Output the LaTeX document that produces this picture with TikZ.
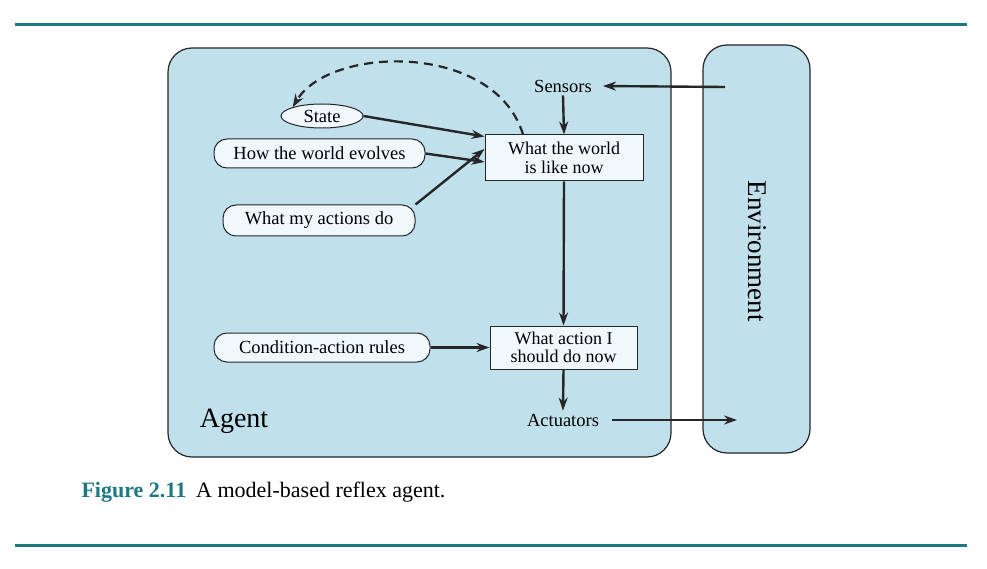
\documentclass[tikz,border=0pt]{standalone}
\usepackage{fontspec}
\setmainfont{Liberation Serif}
\usetikzlibrary{arrows.meta,shapes.geometric}
\definecolor{teal}{RGB}{30,120,130}
\definecolor{agentfill}{RGB}{192,224,236}
\definecolor{boxfill}{RGB}{240,248,252}
\begin{document}
\begin{tikzpicture}[x=1pt,y=-1pt,
  big/.style={draw=black!85,line width=1.2pt,fill=agentfill,rounded corners=24pt},
  lab/.style={draw=black!85,line width=1pt,fill=boxfill,rounded corners=13pt,font=\fontsize{18.5}{19}\selectfont,inner sep=0pt},
  rect/.style={draw=black!85,line width=1pt,fill=boxfill,font=\fontsize{18}{18.5}\selectfont,align=center,inner sep=0pt},
  txt/.style={font=\fontsize{18.5}{19}\selectfont},
  arr/.style={-{Stealth[length=13pt,width=9pt]},line width=2.4pt,black!85}]
\useasboundingbox (0,0) rectangle (987,569);
\draw[teal,line width=3pt] (15,25) -- (967,25);
\draw[teal,line width=3pt] (15,545) -- (967,545);
\draw[big] (168,48) rectangle (671,457);
\draw[big] (703,45) rectangle (810,453);
\node[rotate=-90,font=\fontsize{27}{28}\selectfont] (env) at (757,251) {Environment};
\node[font=\fontsize{28}{30}\selectfont] (agent) at (234,421) {Agent};
\node[txt,inner sep=3pt] (sensors) at (563,86) {Sensors};
\node[txt,inner sep=3pt] (actuators) at (563,420) {Actuators};
\node[rect,minimum width=158pt,minimum height=46pt] (world) at (564,158) {What the world\\is like now};
\node[rect,minimum width=147pt,minimum height=43pt] (action) at (563.5,347.5) {What action I\\should do now};
\node[ellipse,draw=black!85,line width=1pt,fill=boxfill,minimum width=82pt,minimum height=24pt,inner sep=0pt,txt] (state) at (322,116) {State};
\node[lab,minimum width=211pt,minimum height=29pt] (evolves) at (319.5,153.5) {How the world evolves};
\node[lab,minimum width=192pt,minimum height=31pt] (do) at (319,220.5) {What my actions do};
\node[lab,minimum width=216pt,minimum height=29pt] (rules) at (322,347.5) {Condition-action rules};
\coordinate (envin) at (725,87);
\coordinate (envout) at (737,420);
\draw[arr] (envin) -- ([xshift=8pt]sensors.east);
\draw[arr] (sensors.south) -- (world.north);
\draw[arr] (state.east) -- ([yshift=-2pt]world.north west);
\draw[arr] (evolves.east) -- ([yshift=-4pt]world.west);
\draw[arr] (do.north east) -- ([yshift=9pt]world.west);
\draw[arr] (world.south) -- (action.north);
\draw[arr] (rules.east) -- (action.west);
\draw[arr] (action.south) -- (actuators.north);
\draw[arr] ([xshift=10pt]actuators.east) -- (envout);
\draw[arr,dash pattern=on 9pt off 6pt,line width=2.2pt] ([xshift=-41pt]world.north) .. controls (495,42) and (330,45) .. (state.north west);
\node[anchor=west,font=\fontsize{22}{24}\selectfont] (cap) at (78,492) {\textcolor{teal}{\textbf{Figure 2.11}}\hspace{10pt}A model-based reflex agent.};
\end{tikzpicture}
\end{document}
